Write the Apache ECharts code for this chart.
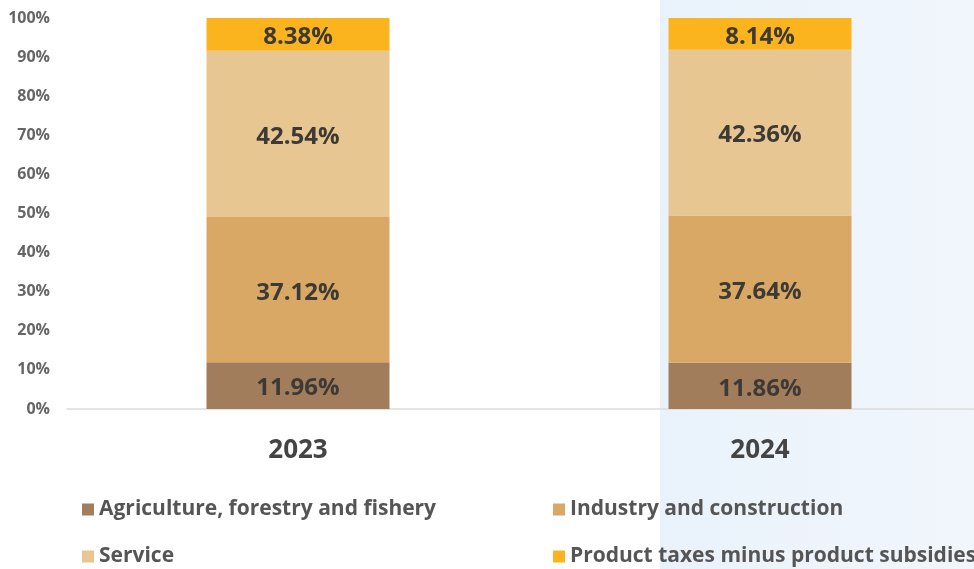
<!DOCTYPE html>
<html><head><meta charset="utf-8">
<script src="https://cdn.jsdelivr.net/npm/echarts@6/dist/echarts.min.js"></script>
<style>html,body{margin:0;padding:0;background:#fff}#c{width:974px;height:569px}</style>
</head><body><div id="c"></div>
<script>
const categories = ['2023', '2024'];
const seriesNames = ['Agriculture, forestry and fishery', 'Industry and construction', 'Service', 'Product taxes minus product subsidies'];
const agriculture = [11.96, 11.86];
const industry = [37.12, 37.64];
const service = [42.54, 42.36];
const taxes = [8.38, 8.14];
const yTicks = [0, 10, 20, 30, 40, 50, 60, 70, 80, 90, 100];

const colors = ['#a27d5c', '#d9a864', '#e8c691', '#fbb41e'];
const values = [agriculture, industry, service, taxes];
const font = '"Open Sans", "Noto Sans", sans-serif';

const chart = echarts.init(document.getElementById('c'));
const legendPos = [[77, 494], [548, 494], [77, 541], [548, 541]];
chart.setOption({
  animation: false,
  graphic: [{
    type: 'rect', z: -10, silent: true,
    shape: { x: 660, y: 0, width: 314, height: 569 },
    style: { fill: new echarts.graphic.LinearGradient(0, 0, 1, 0, [
      { offset: 0, color: '#e9f2fb' }, { offset: 1, color: '#f1f6fc' }]) }
  }],
  grid: { left: 67, width: 924, top: 18, bottom: 160, outerBoundsMode: 'none', containLabel: false },
  legend: seriesNames.map((n, i) => ({
    data: [n], left: legendPos[i][0], top: legendPos[i][1],
    icon: 'rect', itemWidth: 12, itemHeight: 12, itemGap: 6,
    textStyle: { fontFamily: font, fontWeight: 'bold', fontSize: 21, color: '#555' },
    selectedMode: false
  })),
  xAxis: {
    type: 'category', data: categories,
    axisLine: { lineStyle: { color: '#dcdcdc', width: 1.5 } },
    axisTick: { show: false },
    axisLabel: { fontFamily: font, fontWeight: 'bold', fontSize: 26, color: '#444', margin: 29 }
  },
  yAxis: {
    type: 'value', min: 0, max: 100, interval: 10,
    axisLine: { show: false }, axisTick: { show: false }, splitLine: { show: false },
    axisLabel: { fontFamily: font, fontWeight: 'bold', fontSize: 16, color: '#666', margin: 17,
      formatter: v => yTicks.includes(v) ? v + '%' : '' }
  },
  series: seriesNames.map((n, i) => ({
    name: n, type: 'bar', stack: 'total', barWidth: 183,
    itemStyle: { color: colors[i] },
    label: { show: true, position: 'inside', offset: [0, 3], formatter: p => p.value.toFixed(2) + '%',
      fontFamily: font, fontWeight: 'bold', fontSize: 24, color: '#3d3a36' },
    data: values[i]
  }))
});
</script></body></html>
